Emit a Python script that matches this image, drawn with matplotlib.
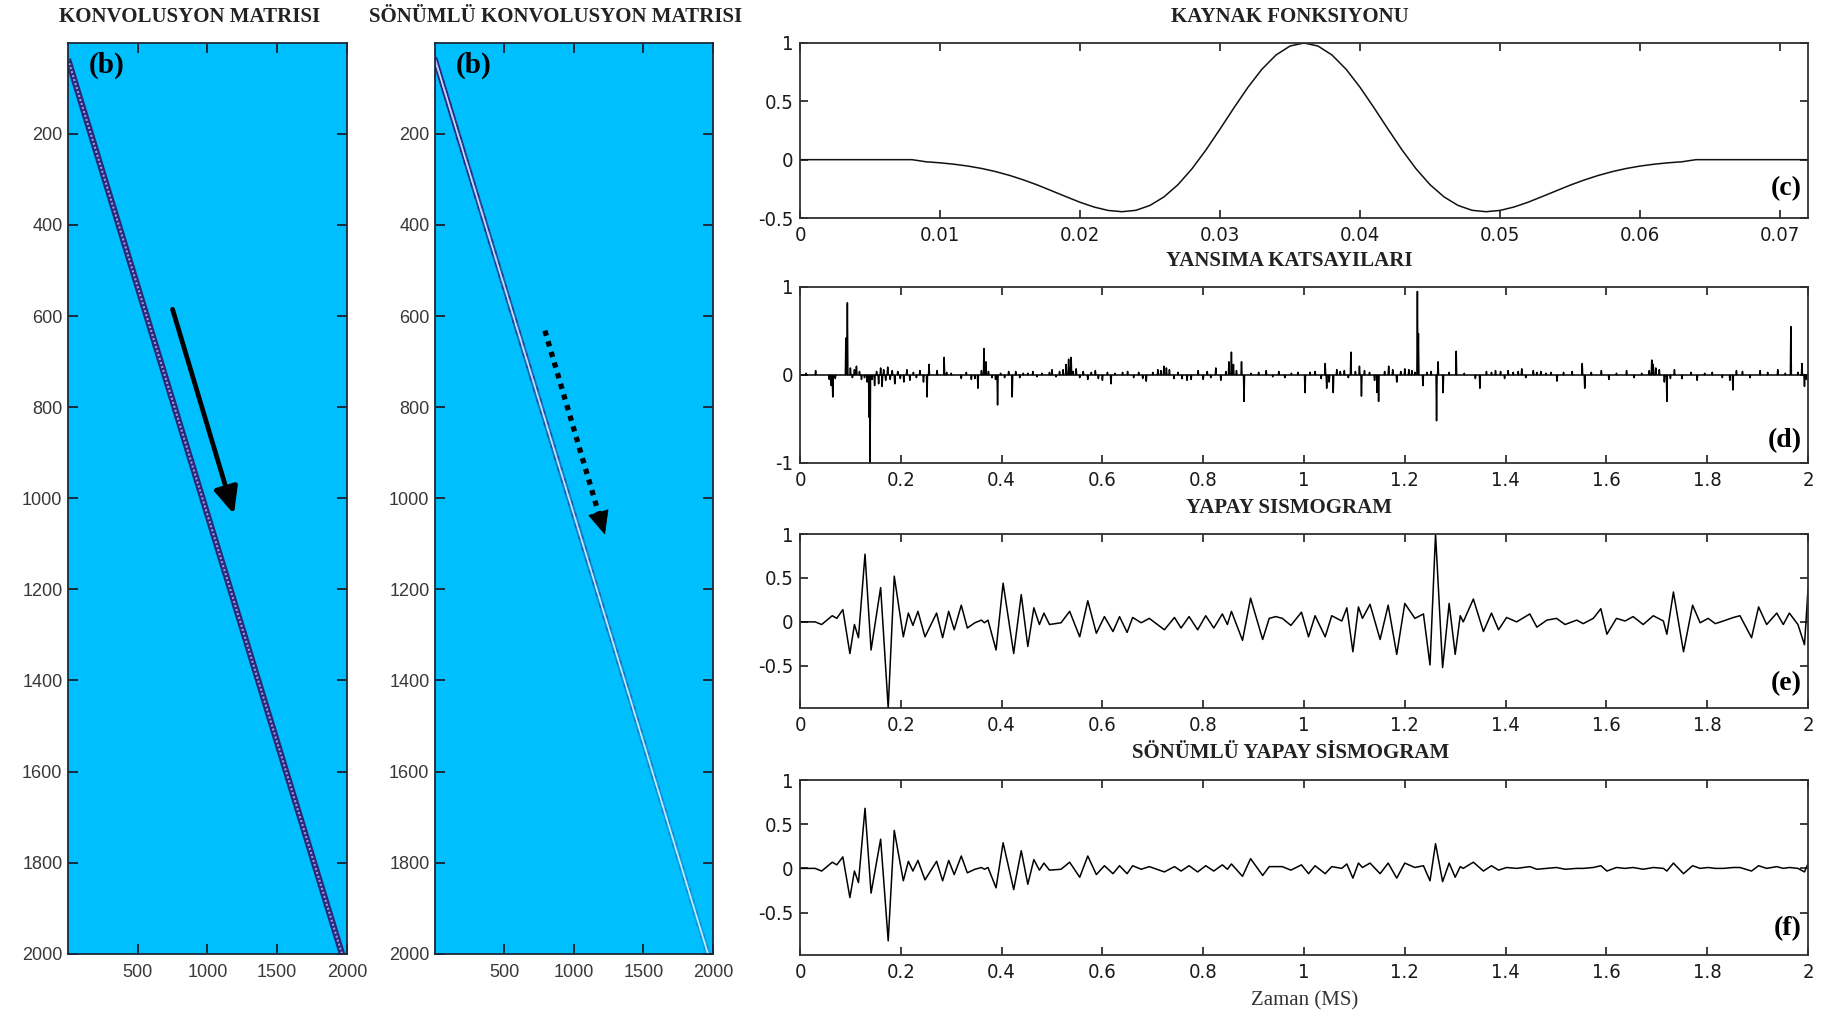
import numpy as np
import matplotlib
matplotlib.use("Agg")
import matplotlib.pyplot as plt
from matplotlib import font_manager
from matplotlib.collections import LineCollection
from matplotlib.ticker import FuncFormatter

plt.rcParams['axes.unicode_minus'] = False

_fonts = font_manager.fontManager.ttflist
_names = {f.name for f in _fonts}
SANS = 'Liberation Sans'
SERIF = 'Liberation Serif'
if 'Liberation Sans Narrow' in _names:
    TICK_FONT = dict(family='Liberation Sans Narrow', stretch='normal', size=16.5)
elif any(f.name == 'DejaVu Sans' and f.stretch in ('condensed', 'semi-condensed')
         for f in _fonts if isinstance(f.stretch, str)):
    TICK_FONT = dict(family='DejaVu Sans', stretch='condensed', size=14.5)
else:
    TICK_FONT = dict(family='Liberation Sans', stretch='normal', size=14.5)

# ---------------------------------------------------------------- data
n_samples = 2000          # samples in the trace (1 ms sampling)
dt = 0.001                # s

# source wavelet, one value per millisecond (0 ... 72 ms)
wavelet = [0, 0, 0, 0, 0, 0, 0, 0, 0,
           -0.018, -0.027, -0.039, -0.055, -0.076, -0.103, -0.136, -0.175, -0.219,
           -0.268, -0.317, -0.365, -0.406, -0.435, -0.446, -0.434, -0.392, -0.319,
           -0.214, -0.078, 0.084, 0.262, 0.445, 0.621, 0.776, 0.897, 0.974,
           1.000,
           0.974, 0.897, 0.776, 0.621, 0.445, 0.262, 0.084, -0.078, -0.214,
           -0.319, -0.392, -0.434, -0.446, -0.435, -0.406, -0.365, -0.317, -0.268,
           -0.219, -0.175, -0.136, -0.103, -0.076, -0.055, -0.039, -0.027, -0.018,
           0, 0, 0, 0, 0, 0, 0, 0, 0]

# reflection coefficients: sample index (ms) and value
refl_ms = [12, 31, 58, 62, 65, 70, 91, 94, 100, 104,
           108, 112, 118, 122, 128, 133, 137, 139, 143, 148,
           152, 156, 160, 163, 166, 170, 174, 179, 183, 188,
           194, 199, 206, 212, 218, 225, 231, 238, 245, 252,
           256, 272, 286, 291, 300, 320, 330, 340, 347, 353,
           360, 365, 369, 374, 381, 388, 392, 398, 406, 414,
           421, 428, 436, 443, 452, 462, 470, 480, 495, 500,
           508, 515, 522, 528, 533, 536, 538, 542, 548, 555,
           562, 571, 578, 586, 592, 600, 610, 617, 625, 640,
           650, 662, 672, 680, 687, 700, 710, 716, 722, 727,
           733, 742, 750, 758, 768, 776, 790, 800, 808, 815,
           825, 835, 845, 851, 856, 860, 866, 876, 881, 895,
           910, 925, 938, 950, 962, 975, 988, 1002, 1012, 1022,
           1034, 1042, 1045, 1050, 1058, 1065, 1072, 1080, 1088, 1093,
           1102, 1110, 1114, 1120, 1130, 1140, 1145, 1148, 1160, 1168,
           1176, 1184, 1192, 1200, 1208, 1214, 1220, 1225, 1227, 1236,
           1244, 1252, 1263, 1266, 1276, 1288, 1302, 1318, 1340, 1349,
           1362, 1372, 1380, 1390, 1398, 1405, 1415, 1425, 1432, 1440,
           1455, 1462, 1470, 1480, 1490, 1502, 1515, 1532, 1552, 1557,
           1570, 1590, 1605, 1620, 1640, 1655, 1670, 1685, 1690, 1693,
           1698, 1705, 1715, 1720, 1727, 1735, 1750, 1768, 1780, 1795,
           1810, 1830, 1845, 1851, 1858, 1870, 1885, 1905, 1920, 1940,
           1955, 1966, 1980, 1988, 1993, 1997]
refl_values = [0.02, 0.05, -0.05, -0.12, -0.25, -0.04, 0.42, 0.82, 0.08, -0.03,
               0.06, 0.10, 0.04, -0.05, -0.03, -0.08, -0.48, -1.00, -0.05, -0.12,
               0.04, -0.10, 0.08, -0.13, 0.06, -0.06, 0.09, -0.05, 0.05, -0.10,
               0.04, -0.04, -0.08, 0.06, -0.06, 0.03, -0.03, 0.05, -0.08, -0.25,
               0.12, 0.05, 0.20, 0.03, 0.02, -0.04, 0.03, -0.05, -0.04, -0.15,
               0.05, 0.30, 0.15, 0.04, -0.03, -0.05, -0.34, 0.02, -0.03, 0.04,
               -0.25, 0.04, -0.03, 0.02, 0.02, 0.04, -0.02, 0.02, 0.03, 0.06,
               -0.02, 0.04, 0.06, 0.12, 0.18, 0.08, 0.20, 0.04, 0.07, -0.03,
               0.04, -0.05, 0.03, 0.05, -0.04, -0.06, 0.03, -0.10, 0.02, 0.03,
               0.04, -0.03, 0.03, -0.04, -0.07, 0.03, 0.06, 0.05, 0.10, 0.08,
               0.06, -0.04, 0.03, -0.04, -0.06, -0.05, 0.05, -0.05, 0.04, -0.03,
               0.08, -0.06, 0.04, 0.15, 0.26, 0.12, 0.05, 0.15, -0.30, 0.02,
               0.03, 0.05, -0.02, 0.04, -0.03, 0.02, 0.03, -0.20, 0.03, 0.04,
               -0.04, 0.13, -0.15, -0.08, -0.20, 0.06, 0.04, 0.05, -0.03, 0.26,
               0.04, 0.10, -0.24, 0.05, 0.03, -0.06, -0.20, -0.30, 0.04, 0.10,
               0.06, -0.08, 0.04, 0.07, 0.06, 0.05, 0.03, 0.95, 0.47, -0.12,
               0.03, 0.04, -0.52, 0.15, -0.20, 0.03, 0.27, 0.02, -0.04, -0.15,
               0.04, 0.03, 0.05, 0.04, -0.04, 0.05, 0.03, 0.04, 0.07, -0.03,
               0.05, 0.03, 0.04, 0.02, 0.03, -0.07, 0.03, 0.04, 0.13, -0.15,
               0.03, 0.05, -0.05, 0.02, 0.05, -0.03, 0.02, 0.05, 0.17, 0.12,
               0.08, 0.06, -0.08, -0.30, -0.04, 0.06, -0.04, 0.03, -0.06, 0.02,
               0.03, -0.03, -0.06, -0.17, 0.05, 0.04, -0.03, 0.05, 0.03, 0.06,
               0.02, 0.55, 0.03, 0.13, -0.13, -0.05]

# synthetic seismogram traces: turning points (s) and amplitudes
trace_times = [0.000, 0.030, 0.043, 0.064, 0.073, 0.085, 0.099, 0.108, 0.116, 0.129,
               0.141, 0.160, 0.175, 0.187, 0.205, 0.215, 0.224, 0.234, 0.248, 0.271,
               0.283, 0.295, 0.306, 0.320, 0.332, 0.347, 0.360, 0.366, 0.373, 0.389,
               0.403, 0.424, 0.439, 0.452, 0.464, 0.475, 0.484, 0.495, 0.518, 0.535,
               0.555, 0.571, 0.588, 0.604, 0.621, 0.634, 0.649, 0.660, 0.677, 0.693,
               0.723, 0.743, 0.756, 0.772, 0.789, 0.805, 0.821, 0.838, 0.848, 0.856,
               0.878, 0.894, 0.918, 0.931, 0.944, 0.957, 0.974, 0.995, 1.009, 1.022,
               1.042, 1.055, 1.075, 1.085, 1.097, 1.108, 1.116, 1.131, 1.151, 1.167,
               1.184, 1.200, 1.220, 1.237, 1.250, 1.261, 1.275, 1.288, 1.300, 1.310,
               1.316, 1.336, 1.356, 1.372, 1.386, 1.402, 1.422, 1.448, 1.462, 1.482,
               1.501, 1.518, 1.541, 1.554, 1.574, 1.589, 1.601, 1.620, 1.637, 1.653,
               1.673, 1.693, 1.713, 1.720, 1.733, 1.753, 1.771, 1.786, 1.802, 1.816,
               1.832, 1.852, 1.865, 1.888, 1.902, 1.918, 1.938, 1.951, 1.963, 1.980,
               1.993, 1.996, 2.000]
seismogram = [0.00, 0.00, -0.03, 0.07, 0.04, 0.14, -0.36, -0.03, -0.18, 0.77,
              -0.32, 0.39, -0.98, 0.52, -0.17, 0.10, -0.04, 0.12, -0.17, 0.10,
              -0.18, 0.12, -0.09, 0.19, -0.07, -0.01, 0.02, -0.01, 0.02, -0.32,
              0.44, -0.36, 0.31, -0.28, 0.16, -0.03, 0.10, -0.03, -0.01, 0.12,
              -0.17, 0.24, -0.13, 0.06, -0.11, 0.06, -0.12, 0.05, -0.01, 0.04,
              -0.09, 0.05, -0.07, 0.06, -0.09, 0.07, -0.07, 0.09, -0.03, 0.12,
              -0.21, 0.27, -0.20, 0.04, 0.06, 0.04, -0.04, 0.11, -0.17, 0.07,
              -0.17, 0.07, 0.01, 0.16, -0.34, 0.17, 0.04, 0.20, -0.20, 0.19,
              -0.37, 0.21, 0.04, 0.09, -0.49, 1.00, -0.52, 0.21, -0.37, 0.07,
              0.00, 0.26, -0.11, 0.10, -0.09, 0.05, 0.00, 0.09, -0.06, 0.02,
              0.04, -0.03, 0.02, -0.02, 0.04, 0.15, -0.14, 0.04, 0.01, 0.06,
              -0.03, 0.07, 0.01, -0.14, 0.34, -0.34, 0.19, -0.01, 0.04, -0.02,
              0.01, 0.05, 0.07, -0.18, 0.17, -0.03, 0.10, -0.03, 0.10, -0.03,
              -0.26, 0.00, 0.37]
damped_seismogram = [0.00, 0.00, -0.03, 0.07, 0.04, 0.13, -0.33, -0.03, -0.16, 0.68,
                     -0.28, 0.33, -0.82, 0.43, -0.14, 0.08, -0.03, 0.09, -0.13, 0.08,
                     -0.14, 0.09, -0.07, 0.14, -0.05, -0.01, 0.01, -0.01, 0.01, -0.22,
                     0.29, -0.24, 0.20, -0.18, 0.10, -0.02, 0.06, -0.02, -0.01, 0.07,
                     -0.10, 0.14, -0.07, 0.03, -0.06, 0.03, -0.06, 0.03, -0.01, 0.02,
                     -0.04, 0.02, -0.03, 0.03, -0.04, 0.03, -0.03, 0.04, -0.01, 0.05,
                     -0.09, 0.11, -0.08, 0.02, 0.02, 0.02, -0.02, 0.04, -0.06, 0.03,
                     -0.06, 0.02, 0.00, 0.05, -0.11, 0.06, 0.01, 0.06, -0.06, 0.06,
                     -0.11, 0.06, 0.01, 0.03, -0.14, 0.28, -0.15, 0.06, -0.10, 0.02,
                     0.00, 0.07, -0.03, 0.03, -0.02, 0.01, 0.00, 0.02, -0.01, 0.00,
                     0.01, -0.01, 0.00, 0.00, 0.01, 0.03, -0.03, 0.01, 0.00, 0.01,
                     -0.01, 0.01, 0.00, -0.03, 0.06, -0.06, 0.03, 0.00, 0.01, 0.00,
                     0.00, 0.01, 0.01, -0.03, 0.03, 0.00, 0.02, 0.00, 0.01, 0.00,
                     -0.04, 0.00, 0.05]

damping_per_s = 1.0       # amplitude decay used for the damped matrix band

matrix_ticks_y = [200, 400, 600, 800, 1000, 1200, 1400, 1600, 1800, 2000]
matrix_ticks_x = [500, 1000, 1500, 2000]
wavelet_ticks_x = [0, 0.01, 0.02, 0.03, 0.04, 0.05, 0.06, 0.07]
time_ticks = [0, 0.2, 0.4, 0.6, 0.8, 1.0, 1.2, 1.4, 1.6, 1.8, 2.0]

# ---------------------------------------------------------------- figure
W, H = 1830, 1016
fig = plt.figure(figsize=(W / 100, H / 100), dpi=100)


def rect(left, top, right, bottom):
    return [left / W, 1 - bottom / H, (right - left) / W, (bottom - top) / H]


fmt = FuncFormatter(lambda v, p: f'{v:g}')


def matrix_axes(r):
    ax = fig.add_axes(r)
    ax.set_facecolor('#00BFFF')
    ax.set_xlim(0.5, n_samples + 0.5)
    ax.set_ylim(n_samples + 0.5, 0.5)
    ax.set_xticks(matrix_ticks_x)
    ax.set_yticks(matrix_ticks_y)
    ax.tick_params(direction='in', length=7.5, width=1.4, top=True, right=True,
                   colors='#1b2a3a', labelcolor='#383838', labelsize=13)
    ax.tick_params(axis='x', pad=7)
    ax.tick_params(axis='y', pad=4)
    for lab in ax.get_xticklabels() + ax.get_yticklabels():
        lab.set_fontfamily(SANS)
    for s in ax.spines.values():
        s.set_color('#1b2a3a')
        s.set_linewidth(1.3)
    ax.text(0.14, 0.976, '(b)', transform=ax.transAxes, ha='center', va='center',
            fontsize=21, fontweight='bold', family=SERIF, color='black')
    return ax


peak_lag = int(np.argmax(wavelet))
cols = np.arange(0, n_samples + 1)
rows = cols + peak_lag

# convolution matrix
ax1 = matrix_axes(rect(68, 43, 347, 954))
ax1.plot(cols, rows, color='#2a2878', lw=4.6, solid_capstyle='butt')
ax1.plot(cols, rows, color='#9a9ae0', lw=1.5, ls=(0, (1.0, 1.0)))
ax1.annotate('', xy=(1190, 1035), xytext=(750, 585),
             arrowprops=dict(arrowstyle='-|>,head_length=1.0,head_width=0.45',
                             mutation_scale=16, lw=3.4, color='black',
                             shrinkA=0, shrinkB=0))

# damped convolution matrix: band amplitude decays down the diagonal
ax2 = matrix_axes(rect(435, 43, 713, 954))
step = 25
c_s, r_s = cols[::step], rows[::step]
pts = np.column_stack([c_s, r_s])
segs = np.stack([pts[:-1], pts[1:]], axis=1)
fade = np.exp(-damping_per_s * c_s[:-1] * dt)
edge_colors = np.zeros((len(segs), 4))
edge_colors[:, 0] = 0.15
edge_colors[:, 1] = 0.17
edge_colors[:, 2] = 0.52
edge_colors[:, 3] = np.clip(fade * 1.1, 0, 1)
ax2.add_collection(LineCollection(segs, colors=edge_colors, linewidths=4.0,
                                  capstyle='round'))
dot_colors = np.ones((len(segs), 4))
dot_colors[:, 0] = 0.72
dot_colors[:, 1] = 0.72
dot_colors[:, 2] = 0.95
dot_colors[:, 3] = fade
ax2.plot(cols, rows, color='#c8f2ff', lw=1.2)
ax2.add_collection(LineCollection(segs, colors=dot_colors, linewidths=1.4,
                                  linestyles=[(0, (1.0, 1.0))]))
dir_x, dir_y = 1223 - 791, 1080 - 632
ax2.plot([791, 791 + dir_x * 0.9], [632, 632 + dir_y * 0.9], color='black',
         lw=3.8, ls=(0, (1.0, 1.1)), dash_capstyle='butt')
ax2.annotate('', xy=(1223, 1080), xytext=(791 + dir_x * 0.9, 632 + dir_y * 0.9),
             arrowprops=dict(arrowstyle='-|>,head_length=1.0,head_width=0.45',
                             mutation_scale=16, lw=0.5, color='black',
                             shrinkA=0, shrinkB=0))


def trace_axes(r, ylim, yticks, xlim, xticks, tag, tag_y):
    ax = fig.add_axes(r)
    ax.set_xlim(*xlim)
    ax.set_ylim(*ylim)
    ax.set_xticks(xticks)
    ax.set_yticks(yticks)
    ax.xaxis.set_major_formatter(fmt)
    ax.yaxis.set_major_formatter(fmt)
    ax.tick_params(direction='in', length=5.5, width=1.3, top=True, right=True,
                   colors='#303030', labelcolor='#1a1a1a',
                   labelsize=TICK_FONT['size'])
    ax.tick_params(axis='x', pad=6)
    ax.tick_params(axis='y', pad=5)
    for lab in ax.get_xticklabels() + ax.get_yticklabels():
        lab.set_fontfamily(TICK_FONT['family'])
        lab.set_fontstretch(TICK_FONT['stretch'])
    for s in ax.spines.values():
        s.set_color('#303030')
        s.set_linewidth(1.3)
    ax.text(0.994, tag_y, tag, transform=ax.transAxes, ha='right', va='center',
            fontsize=20, fontweight='bold', family=SERIF, color='black')
    return ax


# source wavelet
wav_t = np.arange(len(wavelet)) * dt
ax3 = trace_axes(rect(800, 43, 1808, 218), (-0.5, 1), [-0.5, 0, 0.5, 1],
                 (0, 0.072), wavelet_ticks_x, '(c)', 0.17)
ax3.plot(wav_t, wavelet, color='#111111', lw=1.1)

# reflection coefficients
t = np.arange(n_samples + 1) * dt
refl = np.zeros(n_samples + 1)
refl[np.array(refl_ms)] = refl_values
ax4 = trace_axes(rect(800, 287, 1808, 463), (-1, 1), [-1, 0, 1],
                 (0, 2), time_ticks, '(d)', 0.13)
ax4.plot(t, refl, color='black', lw=1.1)

# synthetic seismogram
ax5 = trace_axes(rect(800, 534, 1808, 708), (-0.98, 1), [-0.5, 0, 0.5, 1],
                 (0, 2), time_ticks, '(e)', 0.14)
ax5.plot(trace_times, seismogram, color='black', lw=1.1)

# damped synthetic seismogram
ax6 = trace_axes(rect(800, 780, 1808, 955), (-0.98, 1), [-0.5, 0, 0.5, 1],
                 (0, 2), time_ticks, '(f)', 0.15)
ax6.plot(trace_times, damped_seismogram, color='black', lw=1.1)

# titles
title_kw = dict(ha='center', va='center', fontsize=15, fontweight='bold',
                family=SERIF, color='#222222')
fig.text(190 / W, 1 - 17 / H, 'KONVOLUSYON MATRISI', **title_kw)
fig.text(556 / W, 1 - 17 / H, 'SÖNÜMLÜ KONVOLUSYON MATRISI', **title_kw)
fig.text(1290 / W, 1 - 17 / H, 'KAYNAK FONKSIYONU', **title_kw)
fig.text(1289 / W, 1 - 261 / H, 'YANSIMA KATSAYILARI', **title_kw)
fig.text(1289 / W, 1 - 508 / H, 'YAPAY SISMOGRAM', **title_kw)
fig.text(1291 / W, 1 - 753 / H, 'SÖNÜMLÜ YAPAY SİSMOGRAM', **title_kw)
fig.text(1305 / W, 1 - 1001 / H, 'Zaman (MS)', ha='center', va='center',
         fontsize=15, family=SERIF, color='#333333')

fig.savefig('out.png', dpi=100, facecolor='white')
